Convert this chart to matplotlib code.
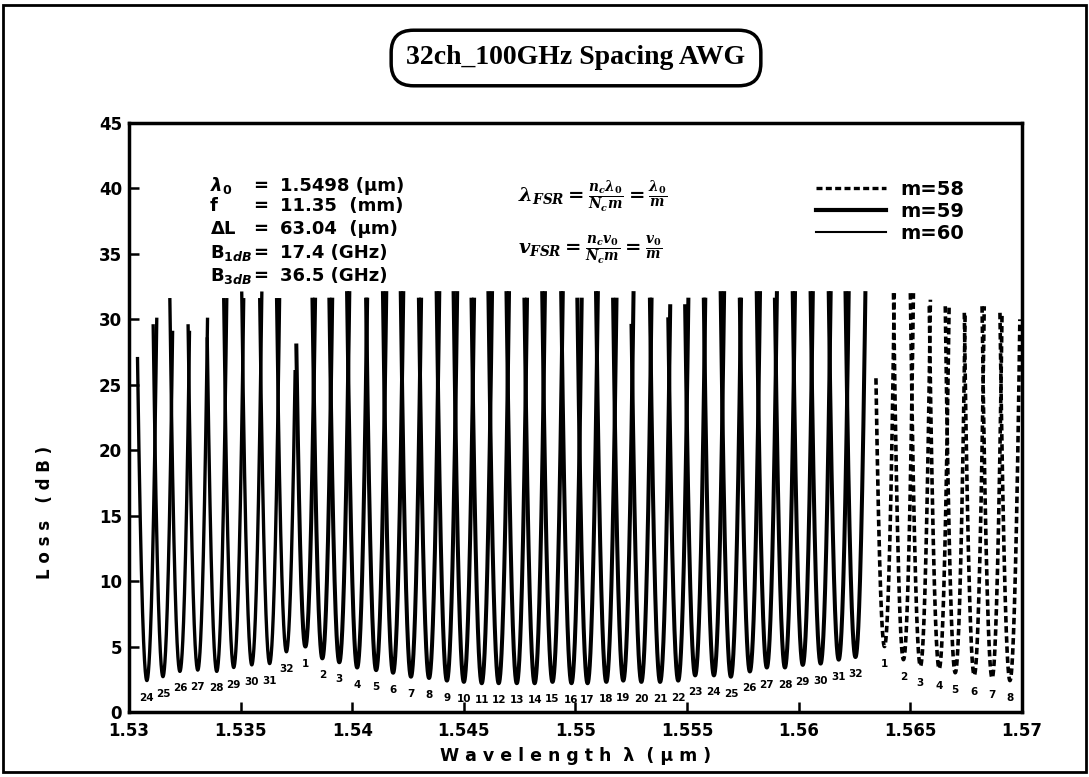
import numpy as np
import matplotlib
matplotlib.use("Agg")
import matplotlib.pyplot as plt
from matplotlib.lines import Line2D
from matplotlib.patches import Rectangle

plt.rcParams['font.family'] = ['DejaVu Sans']
plt.rcParams['font.weight'] = 'bold'

# ---- data ----------------------------------------------------------------
# order m=60 : channels 24..32 (thin solid)
m60_ch = [24, 25, 26, 27, 28, 29, 30, 31, 32]
m60_center = [1.5308, 1.53152, 1.53228, 1.53308, 1.53393, 1.53469, 1.5355, 1.5363, 1.53705]
m60_min = [2.4, 2.7, 3.1, 3.2, 3.1, 3.4, 3.6, 3.7, 4.6]
m60_top_l = [27, 29.5, 31.5, 29.5, 28.5, 31.5, 32, 31.5, 31.5]
m60_top_r = [30, 29, 29, 30, 31.5, 31.5, 32, 31.5, 26]

# order m=59 : channels 1..32 (thick solid)
m59_ch = list(range(1, 33))
m59_center = [1.5379, 1.53866, 1.53942, 1.54022, 1.54107, 1.54183, 1.54263, 1.54344,
              1.54424, 1.5450, 1.5458, 1.54656, 1.54737, 1.54817, 1.54897, 1.54982,
              1.55054, 1.55138, 1.55214, 1.55295, 1.55379, 1.5546, 1.55536, 1.5562,
              1.55696, 1.55781, 1.55857, 1.55938, 1.56018, 1.56098, 1.56179, 1.56254]
m59_min = [5.0, 4.1, 3.8, 3.4, 3.2, 3.0, 2.7, 2.6, 2.4, 2.3, 2.2, 2.2, 2.2, 2.2, 2.3, 2.2,
           2.2, 2.3, 2.4, 2.3, 2.3, 2.4, 2.8, 2.8, 2.7, 3.1, 3.4, 3.4, 3.6, 3.7, 4.0, 4.2]
m59_top_l = [28, 31.5, 31.5, 32, 31.5, 32, 32, 31.5, 32, 32, 31.5, 32, 32, 31.5, 32, 32,
             31.5, 32, 31.5, 29.5, 31.5, 30, 31, 31.5, 32, 31.5, 32, 31.5, 32, 32, 32, 32]
m59_top_r = [31.5, 31.5, 32, 31.5, 32, 32, 31.5, 32, 32, 31.5, 32, 32, 31.5, 32, 32, 31.5,
             32, 31.5, 32, 31.5, 31, 31.5, 31.5, 32, 31.5, 32, 32, 32, 32, 32, 32, 32]

# order m=58 : channels 1..8 (dashed)
m58_ch = [1, 2, 3, 4, 5, 6, 7, 8]
m58_center = [1.56384, 1.56469, 1.56545, 1.56629, 1.56701, 1.56786, 1.56866, 1.56946]
m58_min = [5.0, 4.0, 3.5, 3.3, 3.0, 2.8, 2.6, 2.4]
m58_top_l = [25.5, 32, 32, 31, 31, 30.5, 31, 30.5]
m58_top_r = [32, 32, 31.5, 31, 30.5, 31, 30.5, 30]

xticks = [1.53, 1.535, 1.54, 1.545, 1.55, 1.555, 1.56, 1.565, 1.57]
xtick_labels = ['1.53', '1.535', '1.54', '1.545', '1.55', '1.555', '1.56', '1.565', '1.57']
yticks = [0, 5, 10, 15, 20, 25, 30, 35, 40, 45]

# device parameters (text block)
lam0 = 1.5498     # um
f_mm = 11.35
dL = 63.04
b1db = 17.4       # GHz
b3db = 36.5       # GHz

# gaussian passband -> parabola in dB, width from the 3dB bandwidth
dl3 = (lam0 * 1e-6) ** 2 * b3db * 1e9 / 2.998e8 * 1e6
k = 3.0 / (dl3 / 2) ** 2

W, H = 1089, 777
def fx(px): return px / W
def fy(py): return 1 - py / H

fig = plt.figure(figsize=(W / 100, H / 100), dpi=100)
ax = fig.add_axes([fx(129), fy(712), (1022 - 129) / W, (712 - 123) / H])


def draw_channel(center, lmin, top_l, top_r, **kw):
    x = np.linspace(center - np.sqrt((top_l - lmin) / k),
                    center + np.sqrt((top_r - lmin) / k), 150)
    ax.plot(x, lmin + k * (x - center) ** 2, **kw)


groups = [
    (m60_ch, m60_center, m60_min, m60_top_l, m60_top_r, dict(color='black', lw=2.4)),
    (m59_ch, m59_center, m59_min, m59_top_l, m59_top_r, dict(color='black', lw=2.9)),
    (m58_ch, m58_center, m58_min, m58_top_l, m58_top_r,
     dict(color='black', lw=2.6, linestyle=(0, (1.8, 1.0)))),
]
for chs, cen, mins, tl, tr, style in groups:
    for i in range(len(chs)):
        draw_channel(cen[i], mins[i], tl[i], tr[i], **style)
        ax.text(cen[i], mins[i] - 1.3, str(chs[i]), ha='center', va='center',
                fontsize=7.5, fontweight='bold')

ax.set_xlim(1.53, 1.57)
ax.set_ylim(0, 45)
ax.set_xticks(xticks)
ax.set_xticklabels(xtick_labels)
ax.set_yticks(yticks)
ax.tick_params(direction='in', length=7, width=1.8, labelsize=12)
ax.tick_params(axis='x', pad=7)
ax.tick_params(axis='y', pad=5)
for lab in ax.get_xticklabels() + ax.get_yticklabels():
    lab.set_fontweight('bold')
for sp in ax.spines.values():
    sp.set_linewidth(2.5)

# legend
handles = [Line2D([], [], color='black', lw=2.4, linestyle=(0, (1.8, 1.0))),
           Line2D([], [], color='black', lw=3.0),
           Line2D([], [], color='black', lw=1.5)]
ax.legend(handles, ['m=58', 'm=59', 'm=60'], loc='upper left',
          bbox_to_anchor=(fx(806), fy(170)), bbox_transform=fig.transFigure,
          frameon=False, handlelength=3.6, handletextpad=0.75, labelspacing=0.15,
          borderpad=0, prop={'family': 'DejaVu Sans', 'weight': 'bold', 'size': 14})

# parameter block
names = [r'$\lambda_0$', 'f', r'$\Delta$L', r'B$_{1dB}$', r'B$_{3dB}$']
values = ['%.4f (µm)' % lam0, '%.2f  (mm)' % f_mm, '%.2f  (µm)' % dL,
          '%.1f (GHz)' % b1db, '%.1f (GHz)' % b3db]
rows_y = [186, 206, 229, 253, 276]
for nm, val, yy in zip(names, values, rows_y):
    fig.text(fx(210), fy(yy), nm, fontsize=13, va='center', fontweight='bold')
    fig.text(fx(253), fy(yy), '=', fontsize=13, va='center', fontweight='bold')
    fig.text(fx(280), fy(yy), val, fontsize=13, va='center', fontweight='bold')

# FSR formulas
fig.text(fx(518), fy(197), r'$\lambda_{FSR}=\frac{n_c\lambda_0}{N_c m}=\frac{\lambda_0}{m}$',
         fontsize=14, va='center', math_fontfamily='dejavuserif')
fig.text(fx(518), fy(250), r'$v_{FSR}=\frac{n_c v_0}{N_c m}=\frac{v_0}{m}$',
         fontsize=14, va='center', math_fontfamily='dejavuserif')

# axis labels
fig.text(fx(576), fy(756), 'W a v e l e n g t h  λ  ( µ m )', ha='center', va='center',
         fontsize=12.5, fontweight='bold')
fig.text(fx(45), fy(512), 'L o s s   ( d B )', ha='center', va='center', rotation=90,
         fontsize=12, fontweight='bold')

# title in rounded box
fig.text(fx(576), fy(58), '32ch_100GHz Spacing AWG', ha='center', va='center',
         fontsize=20, fontweight='bold', family='Liberation Serif',
         bbox=dict(boxstyle='round,pad=0.55,rounding_size=0.8', fc='white',
                   ec='black', lw=2.5))

# scanned page frame
fig.patches.append(Rectangle((0.003, 0.006), 0.994, 0.988, transform=fig.transFigure,
                             fill=False, lw=2, color='black'))

fig.savefig('out.png', dpi=100)
